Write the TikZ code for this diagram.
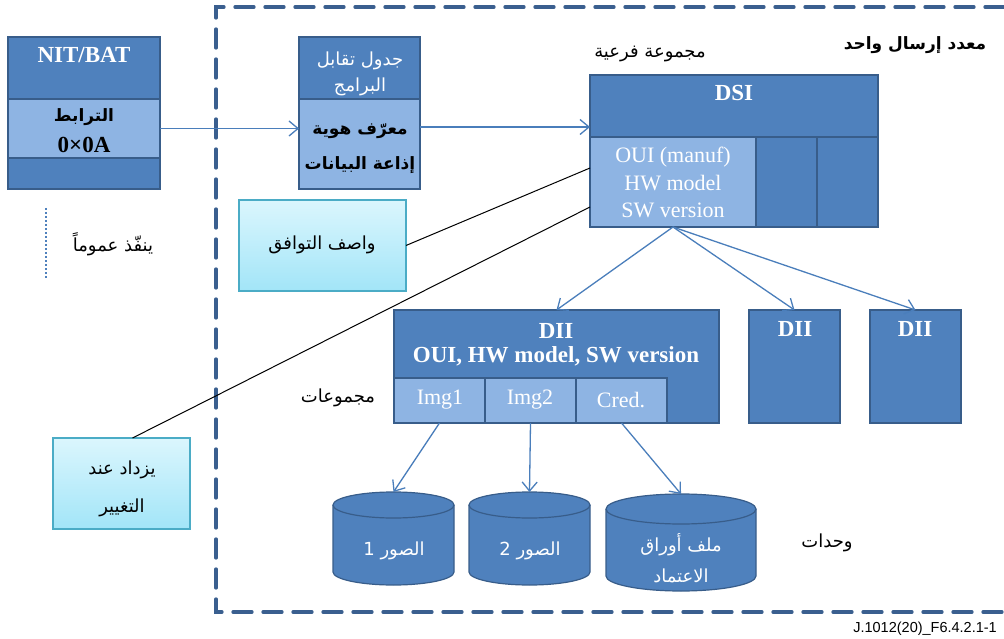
\documentclass[tikz,border=0pt]{standalone}
\usepackage{fontspec}
\setmainfont{Liberation Serif}
\newfontfamily\arabicfont[Script=Arabic]{DejaVu Sans}
\newfontfamily\footfont{Liberation Sans}
\TeXXeTstate=1
\usetikzlibrary{arrows.meta}
\definecolor{dkblue}{HTML}{4F81BD}
\definecolor{bdblue}{HTML}{385D8A}
\definecolor{ltblue}{HTML}{8EB4E3}
\definecolor{arblue}{HTML}{4A7EBB}
\definecolor{frameblue}{HTML}{3A5F8F}
\definecolor{cyantop}{HTML}{DBF6FD}
\definecolor{cyanbot}{HTML}{A2E5F8}
\definecolor{cyanbd}{HTML}{4BACC6}
\newcommand\artxt[1]{\beginR #1\endR}
\newcommand\drawcyl[5]{% cx, rx, ytop-center, ybottom-center, ry
  \path[fill=dkblue] ({#1-#2},#3) -- ({#1-#2},#4) arc[start angle=180,end angle=360,x radius=#2pt,y radius=#5pt] -- ({#1+#2},#3) arc[start angle=0,end angle=180,x radius=#2pt,y radius=#5pt] -- cycle;
  \draw[draw=bdblue,line width=1.2pt] ({#1-#2},#3) -- ({#1-#2},#4) arc[start angle=180,end angle=360,x radius=#2pt,y radius=#5pt] -- ({#1+#2},#3) arc[start angle=0,end angle=180,x radius=#2pt,y radius=#5pt];
  \draw[draw=bdblue,line width=1.2pt] ({#1-#2},#3) arc[start angle=180,end angle=360,x radius=#2pt,y radius=#5pt];
}
\begin{document}
\begin{tikzpicture}[x=1pt,y=-1pt,
 cell/.style={draw=bdblue,line width=1.2pt,inner sep=0pt,outer sep=0pt,anchor=north west},
 dkcell/.style={cell,fill=dkblue},
 ltcell/.style={cell,fill=ltblue},
 notebox/.style={draw=cyanbd,line width=1.5pt,top color=cyantop,bottom color=cyanbot,inner sep=0pt,outer sep=0pt,anchor=north west},
 lat/.style={font=\fontsize{22}{26}\selectfont,inner sep=0pt},
 latb/.style={font=\bfseries\fontsize{23}{26}\selectfont,inner sep=0pt},
 arr/.style={font=\arabicfont\fontsize{18}{21}\selectfont,inner sep=0pt},
 arrb/.style={font=\arabicfont\bfseries\fontsize{17}{20}\selectfont,inner sep=0pt},
 link/.style={draw=arblue,line width=1.3pt,-{Straight Barb[length=9pt,width=15pt,line width=1.3pt]}},
 leader/.style={draw=black,line width=1pt},
 frame/.style={draw=frameblue,line width=3.3pt,line cap=round,dash pattern=on 19pt off 11pt}]
\useasboundingbox (0,0) rectangle (1004,639);

% dashed frame
\draw[frame] (1004,7) -- (216,7) -- (216,612) -- (1004,612);

% NIT/BAT
\node[dkcell,minimum width=152pt,minimum height=62pt] (nittop) at (8,37) {};
\node[ltcell,minimum width=152pt,minimum height=59pt] (nitmid) at (8,99) {};
\node[dkcell,minimum width=152pt,minimum height=31pt] (nitbot) at (8,158) {};
\node[latb,text=white] (nitlbl) at (84,55) {NIT/BAT};
\node[arrb] (linklbl) at (84,117) {\artxt{الترابط}};
\node[latb] (hexlbl) at (84,145) {0×0A};

% programme map table
\node[dkcell,minimum width=121pt,minimum height=62pt] (progtop) at (299,37) {};
\node[ltcell,minimum width=121pt,minimum height=90pt] (progbot) at (299,99) {};
\node[arr,text=white] (pmt1) at (360,61) {\artxt{جدول تقابل}};
\node[arr,text=white] (pmt2) at (360,87) {\artxt{البرامج}};
\node[arrb] (bid1) at (360,131) {\artxt{معرّف هوية}};
\node[arrb] (bid2) at (360,165) {\artxt{إذاعة البيانات}};

% DSI
\node[dkcell,minimum width=288pt,minimum height=62pt] (dsitop) at (590,75) {};
\node[ltcell,minimum width=166pt,minimum height=90pt] (oui) at (590,137) {};
\node[dkcell,minimum width=61pt,minimum height=90pt] (dsic2) at (756,137) {};
\node[dkcell,minimum width=61pt,minimum height=90pt] (dsic3) at (817,137) {};
\node[latb,text=white] (dsilbl) at (734,93) {DSI};
\node[lat,text=white] (oui1) at (673,157) {OUI (manuf)};
\node[lat,text=white] (oui2) at (673,183) {HW model};
\node[lat,text=white] (oui3) at (673,210) {SW version};

\node[arr] (subgrp) at (650,54) {\artxt{مجموعة فرعية}};
\node[arrb] (mux) at (915,45) {\artxt{معدد إرسال واحد}};

% notes
\node[notebox,minimum width=167pt,minimum height=91pt] (compat) at (239,200) {};
\node[arr] (compatlbl) at (322,245) {\artxt{واصف التوافق}};
\node[notebox,minimum width=137pt,minimum height=91pt] (chg) at (53,438) {};
\node[arr] (chg1) at (122,470) {\artxt{يزداد عند}};
\node[arr] (chg2) at (122,508) {\artxt{التغيير}};

\coordinate (dotA) at (46,208);
\coordinate (dotB) at (46,278);
\draw[draw=dkblue,line width=1.6pt,dash pattern=on 2pt off 2pt] (dotA) -- (dotB);
\node[arr] (usual) at (113,244) {\artxt{ينفّذ عموماً}};

% DII
\node[dkcell,minimum width=325pt,minimum height=113pt] (dii) at (394,310) {};
\node[ltcell,minimum width=91pt,minimum height=45pt] (img1) at (394,378) {};
\node[ltcell,minimum width=91pt,minimum height=45pt] (img2) at (485,378) {};
\node[ltcell,minimum width=91pt,minimum height=45pt] (cred) at (576,378) {};
\node[latb,text=white] (diilbl) at (556,331) {DII};
\node[latb,text=white] (diisub) at (556,356) {OUI, HW model, SW version};
\node[lat,text=white] (img1lbl) at (440,400) {Img1};
\node[lat,text=white] (img2lbl) at (530,400) {Img2};
\node[lat,text=white] (credlbl) at (621,400) {Cred.};
\node[arr] (groups) at (338,398) {\artxt{مجموعات}};

\node[dkcell,minimum width=91pt,minimum height=113pt] (dii2) at (749,310) {};
\node[dkcell,minimum width=91pt,minimum height=113pt] (dii3) at (870,310) {};
\node[latb,text=white] (dii2lbl) at (795,329) {DII};
\node[latb,text=white] (dii3lbl) at (915,329) {DII};

% modules (cylinders)
\drawcyl{393.5}{60.5}{505}{572}{13}
\drawcyl{529.5}{60.5}{505}{572}{13}
\drawcyl{681}{75}{509}{576}{15}
\coordinate (cyl1top) at (393.5,492);
\coordinate (cyl2top) at (529.5,492);
\coordinate (cyl3top) at (681,494);
\node[arr,text=white] (cyl1lbl) at (394,551) {\artxt{الصور 1}};
\node[arr,text=white] (cyl2lbl) at (530,551) {\artxt{الصور 2}};
\node[arr,text=white] (cyl3lbl1) at (681,545) {\artxt{ملف أوراق}};
\node[arr,text=white] (cyl3lbl2) at (681,576) {\artxt{الاعتماد}};
\node[arr] (modules) at (827,543) {\artxt{وحدات}};

% connectors
\draw[link] (nitmid.east) -- (nitmid.east -| progbot.west);
\draw[link] ([yshift=17pt]progbot.east) coordinate (pa) -- (pa -| dsitop.west);
\draw[leader] (compat.east) -- ([yshift=-31pt]oui.north west);
\draw[leader] ([xshift=11pt]chg.north) -- ([yshift=-70pt]oui.north west);
\draw[link] (oui.south) -- (dii.north);
\draw[link] (oui.south) -- (dii2.north);
\draw[link] (oui.south) -- (dii3.north);
\draw[link] (img1.south) -- (cyl1top);
\draw[link] (img2.south) -- (cyl2top);
\draw[link] (cred.south) -- (cyl3top);

\node[font=\footfont\fontsize{14.5}{16}\selectfont,anchor=base east,inner sep=0pt] (figid) at (997,632) {J.1012(20)\_F6.4.2.1-1};
\end{tikzpicture}
\end{document}
